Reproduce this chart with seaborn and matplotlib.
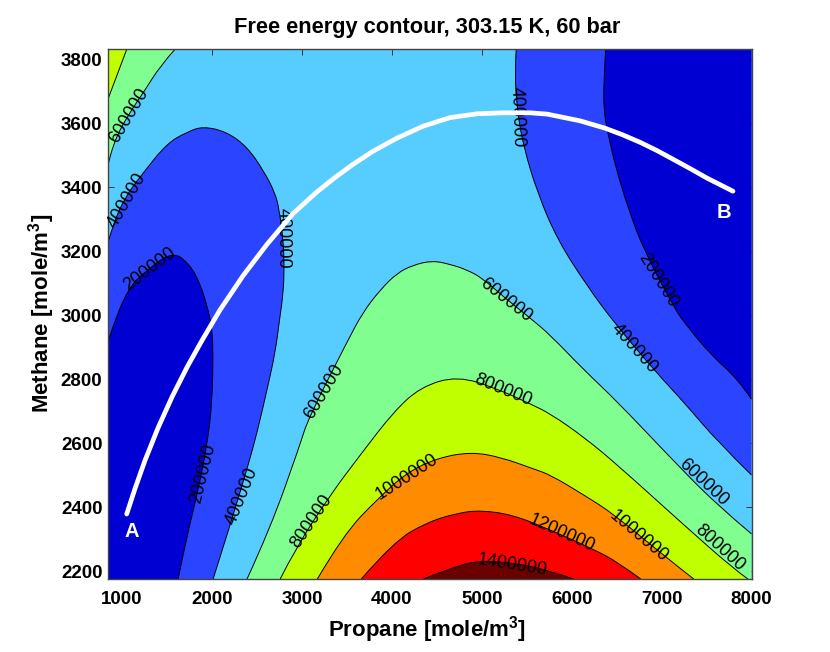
import matplotlib
matplotlib.use('Agg')
import matplotlib.pyplot as plt
from matplotlib.path import Path
from matplotlib.patches import PathPatch
import seaborn as sns

# Contour lines (propane, methane)
x_800_corner = [844, 1056]
y_800_corner = [3675, 3833]
x_600_corner = [844, 900, 1067, 1256, 1423, 1596]
y_600_corner = [3469, 3537, 3625, 3703, 3778, 3833]

x_400_left = [844, 889, 1033, 1234, 1501, 1724, 1902, 2169, 2392, 2570, 2704, 2748, 2793, 2804, 2793, 2748, 2704, 2615, 2503, 2403, 2203, 2013]
y_400_left = [3225, 3275, 3369, 3444, 3537, 3572, 3590, 3572, 3525, 3453, 3381, 3328, 3234, 3150, 3069, 2978, 2884, 2769, 2634, 2531, 2344, 2175]
x_200_left = [844, 889, 1067, 1278, 1560, 1740, 1869, 1958, 2002, 2013, 2002, 1947, 1835, 1724, 1624]
y_200_left = [2916, 2959, 3084, 3141, 3198, 3163, 3100, 3016, 2956, 2875, 2728, 2594, 2438, 2313, 2175]

x_400_right = [5384, 5365, 5399, 5466, 5621, 5844, 6179, 6468, 6935, 7247, 7626, 8000]
y_400_right = [3833, 3756, 3631, 3525, 3381, 3234, 3088, 2978, 2822, 2728, 2603, 2500]
x_200_right = [6379, 6357, 6357, 6401, 6490, 6624, 6802, 7136, 7247, 7548, 7849, 8000]
y_200_right = [3833, 3734, 3641, 3569, 3462, 3337, 3203, 3025, 2978, 2875, 2800, 2737]

x_600_mid = [2390, 2646, 2979, 3068, 3513, 3680, 3869, 4058, 4236, 4447, 4647, 4836, 5003, 5259, 5537, 5760, 6127, 6512, 7069, 7604, 8000]
y_600_mid = [2175, 2331, 2594, 2675, 2922, 3009, 3078, 3131, 3156, 3170, 3159, 3141, 3116, 3053, 2991, 2938, 2831, 2728, 2563, 2409, 2316]
x_800_mid = [2759, 2926, 3316, 3650, 4018, 4319, 4731, 5176, 5543, 5766, 6134, 6512, 7247, 7804, 7960]
y_800_mid = [2175, 2269, 2438, 2563, 2697, 2775, 2810, 2769, 2722, 2691, 2619, 2531, 2344, 2206, 2175]
x_1000 = [3172, 3461, 3840, 4174, 4508, 4875, 5209, 5577, 5766, 6134, 6468, 7069, 7358]
y_1000 = [2175, 2313, 2425, 2509, 2553, 2572, 2556, 2519, 2500, 2438, 2378, 2238, 2175]
x_1200 = [3661, 4018, 4397, 4731, 4987, 5354, 5766, 6234, 6512, 6768]
y_1200 = [2175, 2291, 2353, 2381, 2390, 2375, 2328, 2269, 2228, 2175]
x_1400 = [4352, 4686, 4987, 5354, 5733, 6022]
y_1400 = [2175, 2213, 2233, 2225, 2203, 2175]

# white path A -> B
path_x = [1052, 1145, 1256, 1400, 1556, 1723, 1890, 2090, 2346, 2612, 2901, 3168, 3369, 3569, 3791, 4058, 4347, 4647,
          4948, 5237, 5537, 5726, 6093, 6371, 6560, 6760, 6949, 7127, 7316, 7505, 7794]
path_y = [2378, 2458, 2546, 2647, 2744, 2837, 2921, 3016, 3123, 3221, 3317, 3385, 3430, 3471, 3512, 3553, 3590, 3617,
          3629, 3632, 3632, 3628, 3607, 3584, 3564, 3540, 3514, 3487, 3458, 3428, 3387]

# inline contour labels
label_text = ['600000', '400000', '200000', '400000', '200000', '400000', '600000', '800000', '1000000', '800000',
              '1200000', '1400000', '600000', '400000', '200000', '400000', '600000', '800000', '1000000']
label_x = [1078, 1056, 1312, 2793, 1902, 2336, 3250, 3105, 4163, 5232, 5889, 5343, 5265, 6701, 6958, 5399, 7460, 7650, 6746]
label_y = [3622, 3359, 3144, 3241, 2506, 2434, 2759, 2356, 2494, 2766, 2319, 2219, 3047, 2894, 3109, 3619, 2478, 2272, 2309]
label_rot = [59, 60, 37, -90, 76, 68, 59, 56, 33, -22, -24, -9, -38, -48, -58, -88, -43, -42, -40]

xticks = [1000, 2000, 3000, 4000, 5000, 6000, 7000, 8000]
yticks = [2200, 2400, 2600, 2800, 3000, 3200, 3400, 3600, 3800]

x_min, x_max = 844, 8000
y_min, y_max = 2175, 3833


def curve(xs, ys, corner=None):
    # quadratic bezier with the read points as control points, so the lines come out round
    pts = list(zip(xs, ys))
    verts = [pts[0]]
    codes = [Path.MOVETO]
    if len(pts) == 2:
        verts.append(pts[1])
        codes.append(Path.LINETO)
    for i in range(1, len(pts) - 1):
        end = pts[-1] if i == len(pts) - 2 else ((pts[i][0] + pts[i + 1][0]) / 2, (pts[i][1] + pts[i + 1][1]) / 2)
        verts += [pts[i], end]
        codes += [Path.CURVE3, Path.CURVE3]
    if corner is not None:
        verts += [corner, pts[0]]
        codes += [Path.LINETO, Path.CLOSEPOLY]
    return Path(verts, codes)


sns.set_style('ticks')
plt.rcParams['font.family'] = ['Liberation Sans', 'DejaVu Sans']
plt.rcParams['mathtext.fontset'] = 'custom'
plt.rcParams['mathtext.bf'] = 'Liberation Sans:bold'
plt.rcParams['mathtext.rm'] = 'Liberation Sans:bold'
plt.rcParams['text.color'] = 'black'
plt.rcParams['axes.labelcolor'] = 'black'
plt.rcParams['xtick.labelcolor'] = 'black'
plt.rcParams['ytick.labelcolor'] = 'black'

fig = plt.figure(figsize=(8.3, 6.52), dpi=100)
ax = fig.add_axes([108 / 830, 1 - 579 / 652, (751.5 - 108) / 830, (579 - 48.5) / 652])

col_200 = '#0000d2'
col_400 = '#2a44ff'
col_600 = '#56ccff'
col_800 = '#80ff90'
col_1000 = '#c0ff00'
col_1200 = '#ff8c00'
col_1400 = '#ff0000'
col_top = '#6a0000'
ax.set_facecolor(col_600)

# Filled bands, painted from the outside in
bands = [(x_600_corner, y_600_corner, (x_min, y_max), col_800),
         (x_800_corner, y_800_corner, (x_min, y_max), col_1000),
         (x_400_left, y_400_left, (x_min, y_min), col_400),
         (x_200_left, y_200_left, (x_min, y_min), col_200),
         (x_400_right, y_400_right, (x_max, y_max), col_400),
         (x_200_right, y_200_right, (x_max, y_max), col_200),
         (x_600_mid, y_600_mid, (x_max, y_min), col_800),
         (x_800_mid, y_800_mid, (x_max, y_min), col_1000),
         (x_1000, y_1000, (x_max, y_min), col_1200),
         (x_1200, y_1200, (x_max, y_min), col_1400),
         (x_1400, y_1400, (x_max, y_min), col_top)]
for bx, by, corner, col in bands:
    ax.add_patch(PathPatch(curve(bx, by, corner), fc=col, ec='none', lw=0))
for bx, by, corner, col in bands:
    ax.add_patch(PathPatch(curve(bx, by), fc='none', ec='black', lw=0.7))

for t, lx, ly, r in zip(label_text, label_x, label_y, label_rot):
    ax.text(lx, ly, t, rotation=r, rotation_mode='anchor', ha='center', va='center',
            fontsize=13, color='black', zorder=4)

sns.lineplot(x=path_x, y=path_y, sort=False, estimator=None, color='white', lw=3.4, ax=ax, zorder=5,
             solid_joinstyle='round')
ax.text(1111, 2325, 'A', color='white', fontsize=14.5, fontweight='bold', ha='center', va='center', zorder=6)
ax.text(7693, 3322, 'B', color='white', fontsize=14.5, fontweight='bold', ha='center', va='center', zorder=6)

ax.set_xlim(x_min, x_max)
ax.set_ylim(y_min, y_max)
ax.set_xticks(xticks)
ax.set_yticks(yticks)
ax.tick_params(direction='in', top=True, right=True, length=4.5, width=0.7, color='#333333', labelsize=13.5)
ax.tick_params(axis='x', pad=8.5)
ax.tick_params(axis='y', pad=4)
for tl in ax.get_xticklabels() + ax.get_yticklabels():
    tl.set_fontweight('bold')
for s in ax.spines.values():
    s.set_linewidth(1.0)
    s.set_color('#444444')

ax.set_title('Free energy contour, 303.15 K, 60 bar', fontsize=15.7, fontweight='bold', pad=11, x=0.496)
ax.set_xlabel(r'Propane [mole/m$^{\mathbf{3}}$]', fontsize=16, fontweight='bold', labelpad=4.5, x=0.496)
ax.set_ylabel(r'Methane [mole/m$^{\mathbf{3}}$]', fontsize=16, fontweight='bold', labelpad=3)

fig.savefig('out.png', dpi=100)
